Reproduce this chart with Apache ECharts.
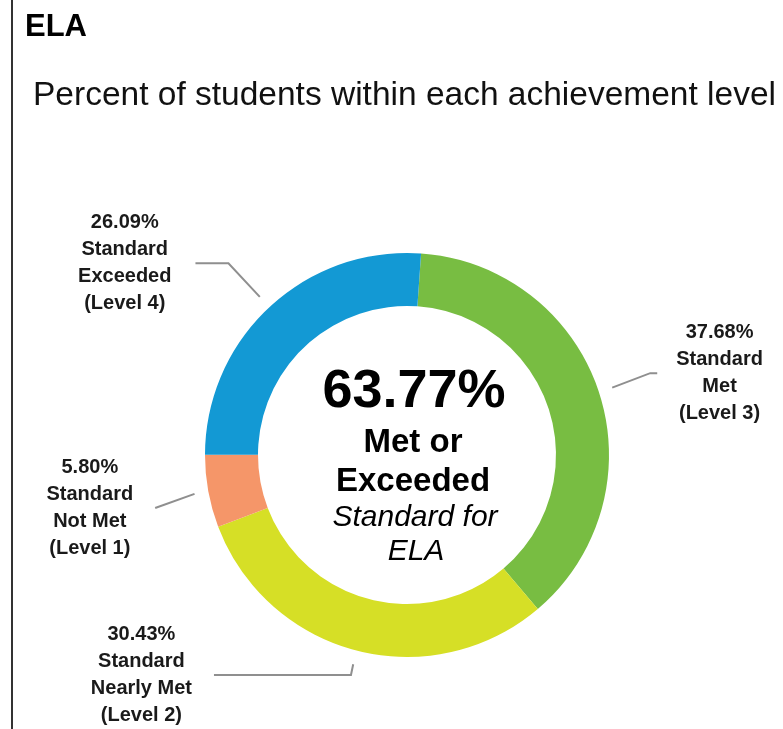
<!DOCTYPE html>
<html>
<head>
<meta charset="utf-8">
<script src="https://cdn.jsdelivr.net/npm/echarts@6/dist/echarts.min.js"></script>
<style>
  html, body { margin: 0; padding: 0; background: #fff; }
  #wrap { position: relative; width: 783px; height: 729px; }
  #chart { position: absolute; left: 0; top: 0; width: 783px; height: 729px; }
  #edge { position: absolute; left: 11px; top: 0; width: 2px; height: 729px; background: #333; }
</style>
</head>
<body>
<div id="wrap"><div id="chart"></div><div id="edge"></div></div>
<script>
// ---- data ----
const categories = ['Standard\nMet\n(Level 3)', 'Standard\nNearly Met\n(Level 2)', 'Standard\nNot Met\n(Level 1)', 'Standard\nExceeded\n(Level 4)'];
const percents = [37.68, 30.43, 5.80, 26.09];
const colors = ['#78bd42', '#d6df26', '#f59669', '#1399d4'];
const titleText = 'ELA';
const subtitleText = 'Percent of students within each achievement level';
const centerCaption = ['Met or', 'Exceeded'];
const centerNote = ['Standard for', 'ELA'];

// ---- layout (not data) ----
const FONT = '"Liberation Sans", Arial, sans-serif';
const labelTweaks = [
  { length: 40, length2: 7, dist: 19, dy: -2 },
  { length: 9, length2: 137, dist: 22, dy: 2 },
  { length: 40, length2: 0, dist: 22, dy: 7 },
  { length: 46, length2: 33, dist: 24, dy: 0 }
];

const metOrExceeded = (percents[0] + percents[3]).toFixed(2) + '%';

const mainData = categories.map((c, i) => ({ name: c, value: percents[i], itemStyle: { color: colors[i] } }));
const labelData = categories.map((c, i) => ({
  name: c, value: percents[i],
  label: { distanceToLabelLine: labelTweaks[i].dist },
  labelLine: { length: labelTweaks[i].length, length2: labelTweaks[i].length2 }
}));

const chart = echarts.init(document.getElementById('chart'), null, { renderer: 'canvas' });
chart.setOption({
  animation: false,
  backgroundColor: '#fff',
  title: [
    { text: titleText, left: 20, top: 7, textStyle: { fontFamily: FONT, fontSize: 31, fontWeight: 'bold', color: '#000' } },
    { text: subtitleText, left: 28, top: 74, textStyle: { fontFamily: FONT, fontSize: 33.5, fontWeight: 'normal', color: '#111' } }
  ],
  series: [
    {
      type: 'pie',
      center: [407, 455],
      radius: [149, 202],
      startAngle: 86,
      clockwise: true,
      silent: true,
      avoidLabelOverlap: false,
      label: { show: false },
      labelLine: { show: false },
      data: mainData
    },
    {
      type: 'pie',
      center: [407, 455],
      radius: [215, 216],
      startAngle: 86,
      clockwise: true,
      silent: true,
      avoidLabelOverlap: false,
      itemStyle: { color: 'rgba(0,0,0,0)' },
      label: {
        show: true,
        formatter: p => {
          const lines = [p.value.toFixed(2) + '%'].concat(p.name.split('\n'));
          return lines.map(l => '{a|' + l + '}').join('\n');
        },
        rich: {
          a: { fontFamily: FONT, fontSize: 20, fontWeight: 'bold', color: '#1a1a1a', lineHeight: 27, align: 'center' }
        }
      },
      labelLine: { show: true, smooth: false, lineStyle: { color: '#8f8f8f', width: 2 } },
      labelLayout: function (params) {
        const t = labelTweaks[params.dataIndex];
        if (!t || !t.dy) return {};
        const pts = params.labelLinePoints;
        const out = { dy: t.dy };
        if (pts && pts.length === 3) {
          out.labelLinePoints = [
            [pts[0][0], pts[0][1]],
            [pts[1][0], pts[1][1] + t.dy],
            [pts[2][0], pts[2][1] + t.dy]
          ];
        }
        return out;
      },
      data: labelData
    }
  ],
  graphic: [
    { type: 'text', x: 414, y: 392, style: { text: metOrExceeded, font: 'bold 54px ' + FONT, fill: '#000', align: 'center', verticalAlign: 'middle' } },
    { type: 'text', x: 413, y: 443, style: { text: centerCaption[0], font: 'bold 33px ' + FONT, fill: '#000', align: 'center', verticalAlign: 'middle' } },
    { type: 'text', x: 413, y: 482, style: { text: centerCaption[1], font: 'bold 33px ' + FONT, fill: '#000', align: 'center', verticalAlign: 'middle' } },
    { type: 'text', x: 415, y: 518, style: { text: centerNote[0], font: 'italic 30px ' + FONT, fill: '#000', align: 'center', verticalAlign: 'middle' } },
    { type: 'text', x: 416, y: 552, style: { text: centerNote[1], font: 'italic 30px ' + FONT, fill: '#000', align: 'center', verticalAlign: 'middle' } }
  ]
});
</script>
</body>
</html>
